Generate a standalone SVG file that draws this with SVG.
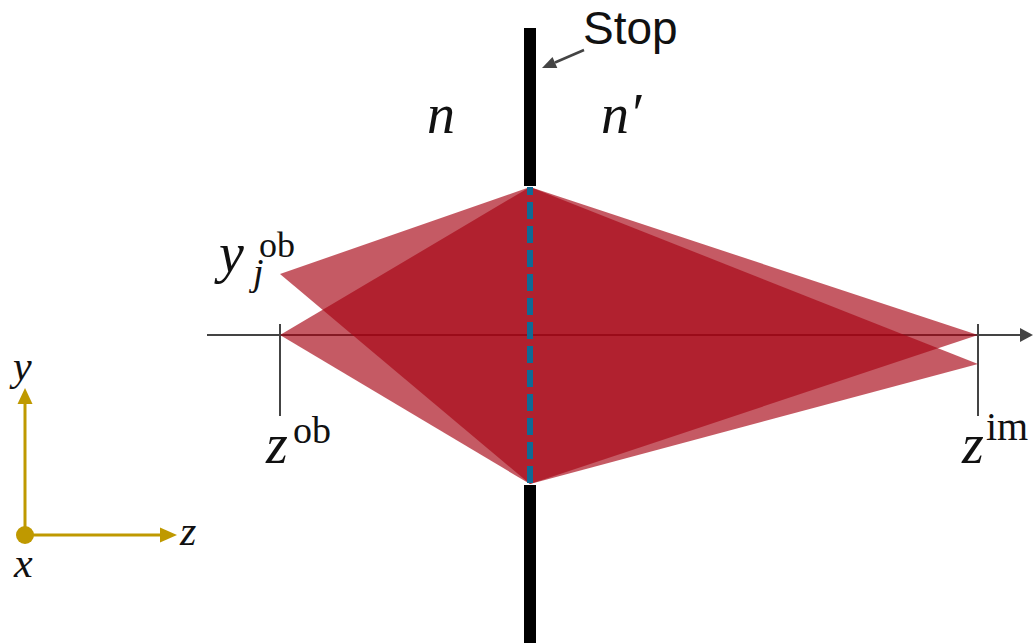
<svg xmlns="http://www.w3.org/2000/svg" width="1033" height="643" viewBox="0 0 1033 643">
<style>
.ray{fill:#a70514;fill-opacity:0.66;stroke:none}
.ax{stroke:#444;stroke-width:2;fill:none}
.gold{stroke:#bf9900;stroke-width:3;fill:none}
.m{font-family:"Liberation Serif","DejaVu Serif",serif;font-style:italic;fill:#111}
.up{font-style:normal}
.s{font-family:"Liberation Sans",Arial,sans-serif;fill:#111}
</style>
<rect width="1033" height="643" fill="#fff"/>
<g id="optical-axis">
<line class="ax" x1="207" y1="335" x2="1021" y2="335"/>
<polygon points="1020,328 1033,335 1020,342" fill="#444"/>
<line class="ax" x1="280" y1="324" x2="280" y2="416"/>
<line class="ax" x1="978" y1="324" x2="978" y2="416"/>
</g>
<g id="ray-bundles">
<polygon class="ray" points="280,335 530,187 530,484"/>
<polygon class="ray" points="530,187 978,335 530,484"/>
<polygon class="ray" points="280,274 530,187 530,484"/>
<polygon class="ray" points="530,187 978,364 530,484"/>
</g>
<g id="stop">
<rect x="524" y="28" width="12" height="158" fill="#000"/>
<rect x="524" y="485" width="12" height="158" fill="#000"/>
<line x1="530" y1="187" x2="530" y2="484" stroke="#106a94" stroke-width="6" stroke-dasharray="17 7" stroke-dashoffset="9"/>
</g>
<g id="connectors">
<line x1="584" y1="50" x2="555" y2="62.5" stroke="#444" stroke-width="2.5"/>
<polygon points="542,68 557.3,68 552.5,57" fill="#444"/>
</g>
<g id="labels">
<text class="s" x="583" y="44" font-size="46">Stop</text>
<text class="m" x="427" y="133" font-size="56">n</text>
<text class="m" x="601" y="133" font-size="56">n′</text>
<text class="m" x="219" y="272" font-size="56">y<tspan x="253" y="285" font-size="38">j</tspan><tspan class="up" x="259" y="257" font-size="36">ob</tspan></text>
<text class="m" x="266" y="463" font-size="56">z<tspan class="up" x="293" y="443" font-size="38">ob</tspan></text>
<text class="m" x="962" y="463" font-size="56">z<tspan class="up" x="986" y="440" font-size="40">im</tspan></text>
</g>
<g id="coordinate-frame">
<line class="gold" x1="25" y1="535" x2="25" y2="402"/>
<polygon points="17.5,404 25,388 32.5,404" fill="#bf9900"/>
<line class="gold" x1="25" y1="535" x2="162" y2="535"/>
<polygon points="160,527.5 177,535 160,542.5" fill="#bf9900"/>
<circle cx="25" cy="535" r="9" fill="#bf9900"/>
<text class="m" x="13" y="380" font-size="42">y</text>
<text class="m" x="180" y="545" font-size="42">z</text>
<text class="m" x="14" y="577" font-size="42">x</text>
</g>
</svg>
